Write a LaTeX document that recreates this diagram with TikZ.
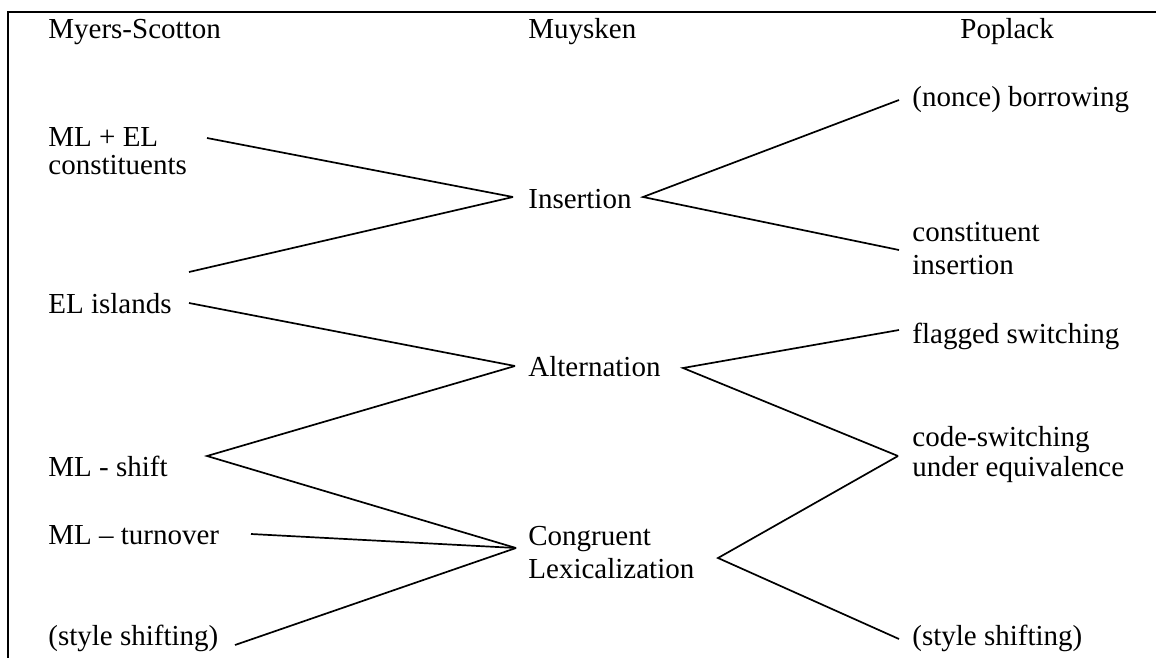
\documentclass[tikz,border=0pt]{standalone}
\usepackage{fontspec}
\setmainfont{Liberation Serif}
\begin{document}
\begin{tikzpicture}[x=0.5pt,y=-0.5pt,
  lbl/.style={anchor=base west,inner sep=0pt,align=left,
    font=\fontsize{14.5pt}{16.5pt}\selectfont},
  tight/.style={font=\fontsize{14.5pt}{14pt}\selectfont},
  mid/.style={font=\fontsize{14.5pt}{15pt}\selectfont},
  link/.style={line width=0.85pt},
  frame/.style={line width=1pt}]
\useasboundingbox (0,0) rectangle (1156,658);

% frame: top rule and left rule
\draw[frame] (8,658) -- (8,12) -- (1156,12);

% column headings
\node[lbl] (hms) at (48,39) {Myers-Scotton};
\node[lbl] (hmu) at (528,39) {Muysken};
\node[lbl] (hpo) at (960,39) {Poplack};

% Myers-Scotton column (two-line labels are placed by their last baseline)
\node[lbl,tight] (mlel) at (48,175) {ML + EL\\constituents};
\node[lbl] (elis) at (48,313) {EL islands};
\node[lbl] (mlsh) at (48,476) {ML - shift};
\node[lbl] (mltu) at (48,544) {ML -- turnover};
\node[lbl] (stl)  at (48,645) {(style shifting)};

% Muysken column
\node[lbl] (ins) at (528,208) {Insertion};
\node[lbl] (alt) at (528,376) {Alternation};
\node[lbl] (cgl) at (528,578) {Congruent\\Lexicalization};

% Poplack column
\node[lbl] (nbo) at (912,107) {(nonce) borrowing};
\node[lbl] (cin) at (912,274) {constituent\\insertion};
\node[lbl] (fsw) at (912,343) {flagged switching};
\node[lbl,mid] (csu) at (912,476) {code-switching\\under equivalence};
\node[lbl] (str) at (912,645) {(style shifting)};

% connector end points
\coordinate (mlel-e) at (207,138);
\coordinate (elis-ne) at (189,272);
\coordinate (elis-e) at (189,303);
\coordinate (mlsh-e) at (207,456);
\coordinate (mltu-e) at (251,534);
\coordinate (stl-e) at (235,645);
\coordinate (ins-w) at (513,197);
\coordinate (ins-e) at (643,197);
\coordinate (alt-w) at (515,366);
\coordinate (alt-e) at (683,368);
\coordinate (cgl-w) at (516,548);
\coordinate (cgl-e) at (718,558);
\coordinate (nbo-w) at (899,100);
\coordinate (cin-w) at (899,250);
\coordinate (fsw-w) at (899,330);
\coordinate (csu-w) at (898,456);
\coordinate (str-w) at (899,639);

% Myers-Scotton to Muysken
\draw[link] (mlel-e) -- (ins-w);
\draw[link] (elis-ne) -- (ins-w);
\draw[link] (elis-e) -- (alt-w);
\draw[link] (alt-w) -- (mlsh-e) -- (cgl-w);
\draw[link] (mltu-e) -- (cgl-w);
\draw[link] (stl-e) -- (cgl-w);

% Muysken to Poplack
\draw[link] (nbo-w) -- (ins-e) -- (cin-w);
\draw[link] (fsw-w) -- (alt-e) -- (csu-w);
\draw[link] (csu-w) -- (cgl-e) -- (str-w);
\end{tikzpicture}
\end{document}
